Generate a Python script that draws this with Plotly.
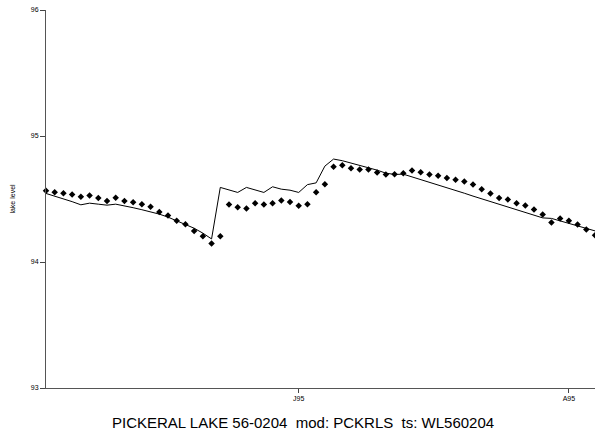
import pandas as pd
import plotly.graph_objects as go

start_date = "1995-06-02"
n_days = 64
dates = pd.date_range(start_date, periods=n_days, freq="D")

observed = [
    94.565, 94.554, 94.546, 94.536, 94.517, 94.528, 94.507, 94.485, 94.509, 94.485,
    94.475, 94.459, 94.438, 94.396, 94.369, 94.327, 94.300, 94.247, 94.205, 94.147,
    94.205, 94.457, 94.435, 94.425, 94.467, 94.457, 94.467, 94.488, 94.477, 94.446,
    94.459, 94.554, 94.618, 94.755, 94.767, 94.745, 94.735, 94.735, 94.711, 94.695,
    94.697, 94.705, 94.727, 94.713, 94.695, 94.684, 94.666, 94.652, 94.639, 94.616,
    94.578, 94.544, 94.507, 94.496, 94.467, 94.449, 94.417, 94.377, 94.314, 94.346,
    94.327, 94.298, 94.258, 94.213,
]

simulated = [
    94.544, 94.523, 94.503, 94.479, 94.454, 94.467, 94.459, 94.451, 94.459, 94.447,
    94.431, 94.415, 94.400, 94.380, 94.356, 94.328, 94.300, 94.268, 94.229, 94.183,
    94.592, 94.572, 94.552, 94.592, 94.574, 94.552, 94.597, 94.578, 94.570, 94.552,
    94.614, 94.628, 94.761, 94.817, 94.804, 94.786, 94.767, 94.748, 94.729, 94.705,
    94.695, 94.697, 94.676, 94.654, 94.632, 94.611, 94.589, 94.567, 94.546, 94.523,
    94.502, 94.481, 94.459, 94.437, 94.415, 94.394, 94.372, 94.350, 94.346, 94.326,
    94.306, 94.287, 94.267, 94.247,
]

x_tick_vals = ["1995-07-01", "1995-08-01"]
x_tick_text = ["J95", "A95"]
y_tick_vals = [93, 94, 95, 96]
y_tick_text = ["93", "94", "95", "96"]

title_text = "PICKERAL LAKE 56-0204  mod: PCKRLS  ts: WL560204"
y_title = "lake level"

fig = go.Figure()
fig.add_trace(go.Scatter(
    x=dates, y=simulated, mode="lines",
    line=dict(color="black", width=1),
    showlegend=False,
))
fig.add_trace(go.Scatter(
    x=dates, y=observed, mode="markers",
    marker=dict(symbol="diamond", size=5, color="black"),
    cliponaxis=False,
    showlegend=False,
))

axis_font = dict(family="Liberation Sans, Arial, sans-serif", size=7, color="black")

fig.update_layout(
    width=595, height=435,
    margin=dict(l=46, r=0, t=10, b=47),
    paper_bgcolor="white", plot_bgcolor="white",
    xaxis=dict(
        range=["1995-06-02", "1995-08-04"],
        tickmode="array", tickvals=x_tick_vals, ticktext=x_tick_text,
        ticks="outside", ticklen=4, tickwidth=1, tickcolor="#444444",
        showline=True, linecolor="#555555", linewidth=1,
        showgrid=False, zeroline=False, tickfont=axis_font,
    ),
    yaxis=dict(
        range=[93, 96],
        tickmode="array", tickvals=y_tick_vals, ticktext=y_tick_text,
        ticks="outside", ticklen=5, tickwidth=1, tickcolor="#444444",
        showline=True, linecolor="#555555", linewidth=1,
        showgrid=False, zeroline=False, tickfont=axis_font,
        title=dict(text=y_title, font=axis_font, standoff=14),
    ),
    annotations=[dict(
        text=title_text, xref="paper", yref="paper",
        x=0.469, y=-0.09, xanchor="center", yanchor="middle",
        showarrow=False,
        font=dict(family="Liberation Sans, Arial, sans-serif", size=15, color="black"),
    )],
)

fig.write_html(
    "out.html",
    config={"displayModeBar": False},
    post_script="document.body.style.margin='0';document.body.style.overflow='hidden';",
)
